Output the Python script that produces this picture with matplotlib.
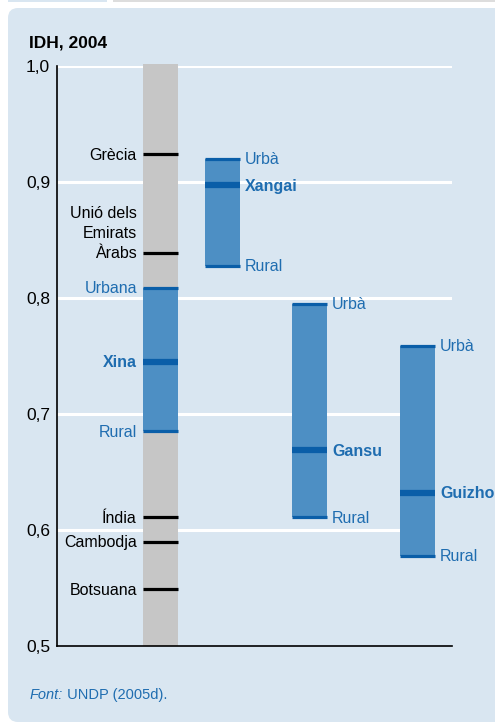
import matplotlib
matplotlib.use('Agg')
import matplotlib.pyplot as plt
from matplotlib.patches import FancyBboxPatch, Rectangle

# IDH 2004: countries and Chinese provinces (urban / total / rural)
countries = ['Grècia', 'Unió dels\nEmirats\nÀrabs', 'Índia', 'Cambodja', 'Botsuana']
country_idh = [0.924, 0.839, 0.611, 0.590, 0.549]

china_label = 'Xina'
china_urban = 0.809
china_total = 0.745
china_rural = 0.685

regions = ['Xangai', 'Gansu', 'Guizhou']
region_urban = [0.920, 0.795, 0.759]
region_total = [0.897, 0.669, 0.632]
region_rural = [0.828, 0.611, 0.578]

yticks = [0.5, 0.6, 0.7, 0.8, 0.9, 1.0]
ytick_labels = ['0,5', '0,6', '0,7', '0,8', '0,9', '1,0']

BG = '#d9e6f1'
BAR = '#4d8fc4'
DARK = '#0a5ea8'
TXT = '#1f6db0'
GREY = '#c6c6c6'

plt.rcParams['font.family'] = ['Liberation Sans', 'DejaVu Sans']

W, H = 495, 724
fig = plt.figure(figsize=(W / 100, H / 100), dpi=100)
fig.patch.set_facecolor('white')

# panel and top strips (pixel coords, origin bottom-left)
fig.patches.append(FancyBboxPatch((8, 2), W + 30, H - 10, boxstyle='round,pad=0,rounding_size=10',
                                  transform=None, facecolor=BG, edgecolor='none', zorder=-10))
fig.patches.append(Rectangle((8, H - 2), 99, 2, transform=None, facecolor=BG, edgecolor='none',
                             zorder=-10))
fig.patches.append(Rectangle((113, H - 2), W, 2, transform=None, facecolor='#dddddd', edgecolor='none',
                             zorder=-10))

ax_left, ax_right, ax_top, ax_bottom = 57, 452, 66, 646
ax = fig.add_axes([ax_left / W, (H - ax_bottom) / H, (ax_right - ax_left) / W, (ax_bottom - ax_top) / H])
ax.set_facecolor('none')
ax.set_xlim(0, ax_right - ax_left)
ax.set_ylim(0.5, 1.0)

# column positions (in px from axis left) and bar width
bw = 35
x_china = 103.5
x_regions = [165.5, 252.5, 360.5]

# grid lines; the lower two stop at the last bar
for y in yticks[1:]:
    xend = x_regions[2] - bw / 2 if y in (0.6, 0.7) else ax_right - ax_left
    ax.plot([0, xend], [y, y], color='white', lw=2.2, zorder=1, solid_capstyle='butt')

# grey reference column
ax.add_patch(Rectangle((x_china - bw / 2, 0.5), bw, 0.502, facecolor=GREY, edgecolor='none',
                       zorder=2, clip_on=False))
ax.add_patch(Rectangle((x_china - bw / 2, china_rural), bw, china_urban - china_rural,
                       facecolor=BAR, edgecolor='none', zorder=3))

fs = 11.5
lab_x = x_china - bw / 2 - 6

for name, v in zip(countries, country_idh):
    ax.plot([x_china - bw / 2, x_china + bw / 2], [v, v], color='black', lw=2.3, zorder=4,
            solid_capstyle='butt')
    ax.annotate(name, (lab_x, v), xytext=(0, -4), textcoords='offset points', ha='right',
                va='baseline', multialignment='right', fontsize=fs, color='black', linespacing=1.45)

for v, lab, lw, bold in [(china_urban, 'Urbana', 2.3, False), (china_total, china_label, 4.5, True),
                         (china_rural, 'Rural', 2.3, False)]:
    ax.plot([x_china - bw / 2, x_china + bw / 2], [v, v], color=DARK, lw=lw, zorder=4,
            solid_capstyle='butt')
    ax.annotate(lab, (lab_x, v), xytext=(0, -4), textcoords='offset points', ha='right',
                va='baseline', fontsize=fs, color=TXT, fontweight='bold' if bold else 'normal')

# provinces
for x, name, u, t, r in zip(x_regions, regions, region_urban, region_total, region_rural):
    ax.add_patch(Rectangle((x - bw / 2, r), bw, u - r, facecolor=BAR, edgecolor='none', zorder=3))
    tx = x + bw / 2 + 5
    for v, lab, lw, bold in [(u, 'Urbà', 2.3, False), (t, name, 4.5, True), (r, 'Rural', 2.3, False)]:
        ax.plot([x - bw / 2, x + bw / 2], [v, v], color=DARK, lw=lw, zorder=4, solid_capstyle='butt')
        ax.annotate(lab, (tx, v), xytext=(0, -4), textcoords='offset points', ha='left',
                    va='baseline', fontsize=fs, color=TXT, fontweight='bold' if bold else 'normal',
                    annotation_clip=False)

ax.set_xticks([])
ax.set_yticks(yticks)
ax.set_yticklabels(ytick_labels, fontsize=12.5)
ax.tick_params(axis='y', length=0, pad=5)
for s in ['top', 'right']:
    ax.spines[s].set_visible(False)
ax.spines['left'].set_linewidth(1.2)
ax.spines['bottom'].set_linewidth(1.2)
ax.spines['left'].set_zorder(5)
ax.spines['bottom'].set_zorder(5)

fig.text(29 / W, 1 - 48 / H, 'IDH, 2004', fontsize=12.5, fontweight='bold', ha='left', va='baseline')

# source line: italic "Font:" followed by the reference
src = fig.text(30 / W, 1 - 699 / H, 'Font:', fontsize=10.5, style='italic', color=TXT,
               ha='left', va='baseline')
ax.annotate(' UNDP (2005d).', xy=(1, 0), xycoords=src, fontsize=10.5, color=TXT,
            ha='left', va='bottom', annotation_clip=False)

fig.savefig('out.png', dpi=100)
